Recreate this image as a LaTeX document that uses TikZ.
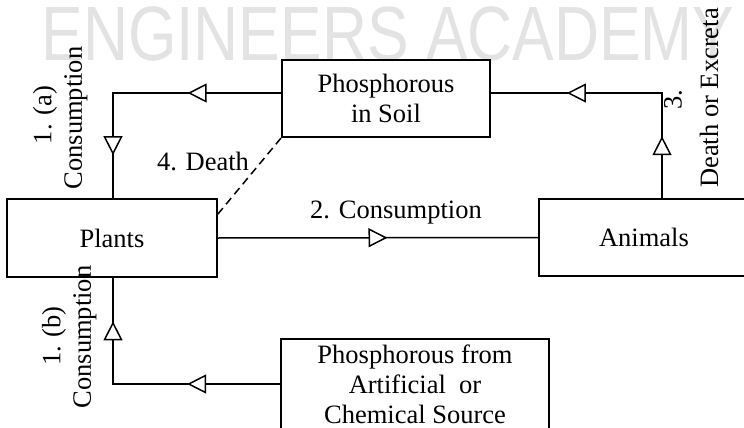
\documentclass[tikz,border=0pt]{standalone}
\usepackage{fontspec}
\setmainfont{Liberation Serif}
\newfontfamily\wmfont[FakeStretch=0.81]{Liberation Sans}
\usepackage{tikz}
\usetikzlibrary{positioning}
\usetikzlibrary{arrows.meta, decorations.markings}
\colorlet{wmcol}{gray!22}
\tikzset{
  box/.style={draw, line width=1.5pt, inner sep=0pt, align=center},
  flow/.style={line width=1.5pt, line cap=rect, postaction={decorate},
    decoration={markings, mark=at position 0.5 with
      {\pgftransformxshift{9.5pt}\arrow{Triangle[fill=white, length=19pt, width=19pt]}}}},
  deathline/.style={line width=1.5pt, dash pattern=on 8pt off 5pt},
  sidelabel/.style={rotate=90, inner sep=0pt},
}

\begin{document}
\begin{tikzpicture}[x=1pt, y=-1pt, font=\fontsize{26.5}{30}\selectfont]
  \useasboundingbox (0,0) rectangle (744,428);
  \clip (0,0) rectangle (744,428);

  % watermark behind everything
  \node[wmcol, font=\fontsize{77}{80}\selectfont\wmfont, anchor=base,
        inner sep=0pt, text depth=0pt] (wm) at (388,61) {ENGINEERS ACADEMY};

  % boxes
  \node[box, minimum width=208pt, minimum height=77pt] (soil) at (386,98.5) {Phosphorous\\in Soil};
  \node[box, minimum width=210pt, minimum height=78pt] (plants) at (112,238) {Plants};
  \node[box, minimum width=210pt, minimum height=77pt] (animals) at (644,237.5) {Animals};
  \node[box, minimum width=268pt, minimum height=90pt] (chem) at (415,384) {Phosphorous from\\Artificial\ \ or\\Chemical Source};

  % corners of the bent connectors
  \coordinate (tl) at (113,93);
  \coordinate (tr) at (662,93);
  \coordinate (bl) at (113,384);

  % 1. (a) soil to plants
  \draw[flow] (tl -| soil.west) -- (tl);
  \draw[flow] (tl) -- (tl |- plants.north);
  % 3. animals back to soil
  \draw[flow] (tr |- animals.north) -- (tr);
  \draw[flow] (tr) -- (tr -| soil.east);
  % 2. plants to animals
  \draw[flow] (plants.east) -- (animals.west);
  % 1. (b) chemical source to plants
  \draw[flow] (chem.west) -- (bl);
  \draw[flow] (bl) -- (bl |- plants.south);
  % 4. death
  \draw[deathline] ([yshift=-16pt]plants.north east) -- (soil.south west);

  % labels
  \node[anchor=base] (deathlbl) at (203,170) {4. Death};
  \node[anchor=base] (conslbl) at (396,218) {2. Consumption};
  \node[sidelabel] (onea) at (45,115) {1. (a)};
  \node[sidelabel] (consa) at (76,118) {Consumption};
  \node[sidelabel] (oneb) at (54,336) {1. (b)};
  \node[sidelabel] (consb) at (85,337) {Consumption};
  \node[sidelabel] (three) at (673,100) {3.};
  \node[sidelabel] (dex) at (709,98) {Death or Excreta};
\end{tikzpicture}
\end{document}
